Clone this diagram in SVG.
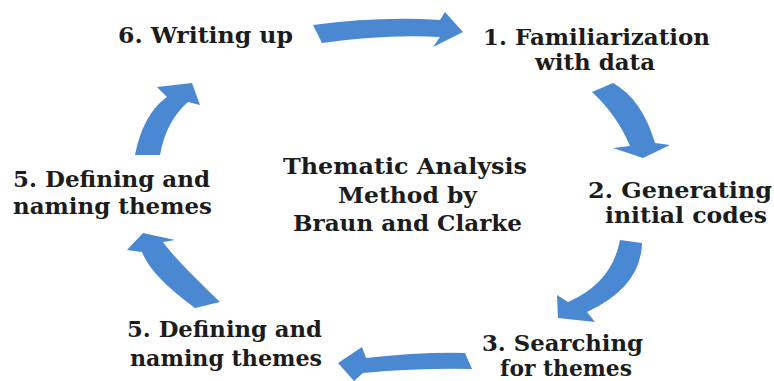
<svg xmlns="http://www.w3.org/2000/svg" width="774" height="381" viewBox="0 0 774 381">
<style>
text{font-family:"DejaVu Serif","Liberation Serif",serif;font-weight:bold;font-size:22px;fill:#1c1c1c}
.arrow{fill:#4A88D2;stroke:none}
</style>
<rect width="774" height="381" fill="#ffffff"/>
<g id="connectors">
<path class="arrow" d="M313,25 Q380,16 440,20 L445,12 L463,32 L433,47 L440,37 Q385,34 322,43 Z"/>
<path class="arrow" d="M592,92 L613,83 Q642,99 655,143 L670,145 L643,158 L613,148 L630,146 Q617,115 592,92 Z"/>
<path class="arrow" d="M620,240 L642,243 Q641,287 587,312 L595,322 L558,318 L557,295 L568,302 Q612,283 620,240 Z"/>
<path class="arrow" d="M465,353 Q420,352 366,358 L362,347 L338,363 L354,381 L363,373 Q420,368 472,369 Z"/>
<path class="arrow" d="M195,308 Q151,276 142,252 L127,250 L143,233 L175,240 L163,242 Q174,258 220,302 Z"/>
<path class="arrow" d="M135,155 Q143,114 167,97 L157,87 L192,83 L200,105 L188,102 Q166,121 160,155 Z"/>
</g>
<g id="node-center">
<text x="283" y="174" textLength="244" lengthAdjust="spacingAndGlyphs">Thematic Analysis</text>
<text x="338" y="203" textLength="139" lengthAdjust="spacingAndGlyphs">Method by</text>
<text x="293" y="231" textLength="229" lengthAdjust="spacingAndGlyphs">Braun and Clarke</text>
</g>
<g id="node-6">
<text x="118" y="43" textLength="175" lengthAdjust="spacingAndGlyphs">6. Writing up</text>
</g>
<g id="node-1">
<text x="483" y="45" textLength="227" lengthAdjust="spacingAndGlyphs">1. Familiarization</text>
<text x="535" y="70" textLength="120" lengthAdjust="spacingAndGlyphs">with data</text>
</g>
<g id="node-2">
<text x="588" y="198" textLength="184" lengthAdjust="spacingAndGlyphs">2. Generating</text>
<text x="605" y="223" textLength="162" lengthAdjust="spacingAndGlyphs">initial codes</text>
</g>
<g id="node-3">
<text x="482" y="351" textLength="161" lengthAdjust="spacingAndGlyphs">3. Searching</text>
<text x="500" y="376" textLength="132" lengthAdjust="spacingAndGlyphs">for themes</text>
</g>
<g id="node-5-bottom">
<text x="127" y="337" textLength="195" lengthAdjust="spacingAndGlyphs">5. Defining and</text>
<text x="130" y="366" textLength="192" lengthAdjust="spacingAndGlyphs">naming themes</text>
</g>
<g id="node-5-left">
<text x="13" y="187" textLength="197" lengthAdjust="spacingAndGlyphs">5. Defining and</text>
<text x="13" y="214" textLength="199" lengthAdjust="spacingAndGlyphs">naming themes</text>
</g>
</svg>
